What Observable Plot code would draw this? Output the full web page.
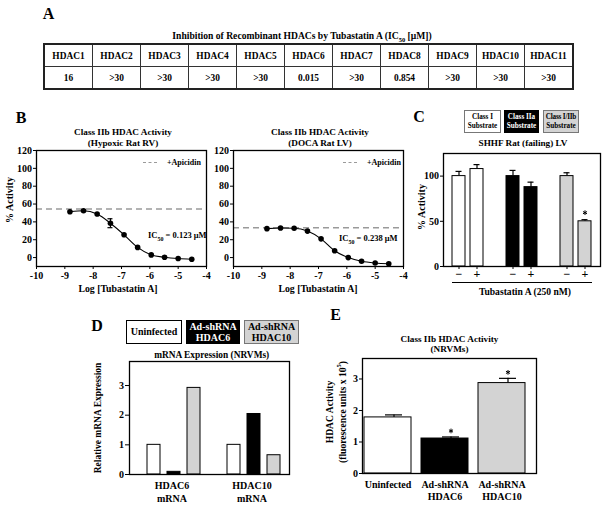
<!DOCTYPE html>
<html><head><meta charset="utf-8">
<script src="https://cdn.jsdelivr.net/npm/d3@7"></script>
<script src="https://cdn.jsdelivr.net/npm/@observablehq/plot@0.6"></script>
<style>
body{margin:0;background:#fff;}
#root{position:relative;width:605px;height:505px;overflow:hidden;background:#fff;color:#000;
  font-family:"Liberation Serif","Times New Roman",serif;font-weight:bold;}
#root svg, #root svg text{font-family:"Liberation Serif","Times New Roman",serif !important;font-weight:bold;}
.lbl{position:absolute;white-space:nowrap;line-height:1.15;text-align:center;}
.box{position:absolute;display:flex;align-items:center;justify-content:center;text-align:center;box-sizing:border-box;line-height:1.12;white-space:nowrap;overflow:visible;}
table.ic{position:absolute;border-collapse:collapse;font-size:9.4px;}
table.ic td{border:1px solid #333;text-align:center;padding:0;height:21px;width:47px;}
table.ic{border:2px solid #222;}
svg{overflow:visible;}
</style></head><body><div id="root"></div>
<script>
// ---------- DATA ----------
const hdacNames = ["HDAC1","HDAC2","HDAC3","HDAC4","HDAC5","HDAC6","HDAC7","HDAC8","HDAC9","HDAC10","HDAC11"];
const hdacIC50 = ["16",">30",">30",">30",">30","0.015",">30","0.854",">30",">30",">30"];

const logConc = [-8.82,-8.34,-7.86,-7.39,-6.91,-6.43,-5.95,-5.48,-5.0,-4.52];
const xTicks = [-10,-9,-8,-7,-6,-5,-4];
const pctTicks = [0,20,40,60,80,100,120];
const rvActivity = [51.4,52.5,48.8,38.5,25.5,11.4,3.0,0.4,-1.1,-1.9];
const rvError = [0,0,0,5,0,0,0,0,0,0];
const rvApicidin = 54.5;
const lvActivity = [32.4,33.1,32.8,29.7,21.0,7.6,0.0,-4.2,-6.1,-6.9];
const lvError = [0,0,0,0,0,0,0,0,0,0];
const lvApicidin = 33.5;

const substrates = ["Class I","Class IIa","Class I/IIb"];
const treatments = ["\u2212","+"];
const cActivity = [[100,107.8],[100,87.8],[100,50]];
const cError = [[5.2,4.9],[6.3,5.5],[3.7,1.8]];
const cSignificant = [[false,false],[false,false],[false,true]];
const cTicks = [0,50,100];

const genes = ["HDAC6 mRNA","HDAC10 mRNA"];
const conditions = ["Uninfected","Ad-shRNA HDAC6","Ad-shRNA HDAC10"];
const mrna = [[1.0,0.09,2.92],[1.0,2.04,0.65]];
const dTicks = [0,1,2,3];

const eActivity = [1.78,1.11,2.87];
const eError = [0.08,0.05,0.15];
const eSignificant = [false,true,true];
const eTicks = [0,1,2,3];

const fills = ["#ffffff","#000000","#d3d3d3"];

// ---------- HELPERS ----------
const root = document.getElementById("root");
const baseStyle = {fontFamily:'"Liberation Serif","Times New Roman",serif', fontWeight:"bold", fontSize:"10px",
  background:"transparent", overflow:"visible", color:"#000"};
const intFmt = d=>String(d);
function place(el, left, top){ el.style.position="absolute"; el.style.left=left+"px"; el.style.top=top+"px"; root.appendChild(el); return el; }
function label(html, cx, cy, size, rot){
  const d=document.createElement("div"); d.className="lbl"; d.innerHTML=html;
  d.style.fontSize=size+"px"; d.style.left=cx+"px"; d.style.top=cy+"px";
  d.style.transform="translate(-50%,-50%)"+(rot?" rotate(-90deg)":""); root.appendChild(d); return d;
}
function labelLeft(html, x, cy, size){
  const d=document.createElement("div"); d.className="lbl"; d.innerHTML=html;
  d.style.fontSize=size+"px"; d.style.left=x+"px"; d.style.top=cy+"px"; d.style.transform="translate(0,-50%)";
  d.style.textAlign="left"; root.appendChild(d); return d;
}
function box(html, x, y, w, h, bg, fg, border, size){
  const d=document.createElement("div"); d.className="box"; d.innerHTML="<div>"+html+"</div>";
  Object.assign(d.style,{left:x+"px",top:y+"px",width:w+"px",height:h+"px",background:bg,color:fg,border:border,fontSize:size+"px"});
  root.appendChild(d); return d;
}
function dash(x, y, w){
  const d=document.createElement("div");
  Object.assign(d.style,{position:"absolute",left:x+"px",top:y+"px",width:w+"px",height:"0",borderTop:"1.5px dashed #9a9a9a"});
  root.appendChild(d);
}

// ---------- PANEL A ----------
label("A", 48.5, 13.5, 16);
label("Inhibition of Recombinant HDACs by Tubastatin A (IC<sub style='font-size:6.5px'>50</sub> [\u03bcM])", 302, 37, 9.6);
{
  const t=document.createElement("table"); t.className="ic";
  const r1=t.insertRow(), r2=t.insertRow();
  hdacNames.forEach((n,i)=>{ r1.insertCell().textContent=n; r2.insertCell().textContent=hdacIC50[i]; });
  place(t, 43, 43);
}

// ---------- PANEL B ----------
function doseResponse(values, errors, apicidin){
  const pts = logConc.map((x,i)=>({x, y:values[i], e:errors[i]}));
  const errPts = pts.filter(d=>d.e>0);
  return Plot.plot({
    width:215, height:160, marginLeft:36, marginRight:9, marginTop:10, marginBottom:34,
    style: baseStyle,
    x:{domain:[-10,-4]}, y:{domain:[-10,120]},
    marks:[
      Plot.ruleY([apicidin], {stroke:"#9a9a9a", strokeWidth:1.4, strokeDasharray:"6,4"}),
      Plot.line(pts, {x:"x", y:"y", curve:"monotone-x", strokeWidth:1.1}),
      Plot.ruleX(errPts, {x:"x", y1:d=>d.y-d.e, y2:d=>d.y+d.e, strokeWidth:1.2}),
      Plot.ruleY(errPts, {x1:"x", x2:"x", y:d=>d.y+d.e, insetLeft:-2.5, insetRight:-2.5, strokeWidth:1.2}),
      Plot.ruleY(errPts, {x1:"x", x2:"x", y:d=>d.y-d.e, insetLeft:-2.5, insetRight:-2.5, strokeWidth:1.2}),
      Plot.dot(pts, {x:"x", y:"y", r:2.8, fill:"#000", stroke:"none"}),
      Plot.frame({strokeWidth:1.3}),
      Plot.axisX({ticks:xTicks, tickFormat:intFmt, tickSize:3, tickPadding:2, label:null}),
      Plot.axisY({ticks:pctTicks, tickFormat:intFmt, tickSize:3, tickPadding:1.5, label:null})
    ]
  });
}
place(doseResponse(rvActivity, rvError, rvApicidin), 0, 140);
place(doseResponse(lvActivity, lvError, lvApicidin), 197, 140);
label("B", 21, 117.5, 16);
label("Class IIb HDAC Activity<br>(Hypoxic Rat RV)", 123, 138, 9.2);
label("Class IIb HDAC Activity<br>(DOCA Rat LV)", 320, 138, 9.2);
label("% Activity", 10, 200, 10, true);
label("Log [Tubastatin A]", 118, 289, 9.8);
label("Log [Tubastatin A]", 318, 289, 9.8);
dash(143, 162, 14); labelLeft("+Apicidin", 167, 163, 8);
dash(343, 162, 14); labelLeft("+Apicidin", 367, 163, 8);
labelLeft("IC<sub style='font-size:6px'>50</sub> = 0.123 \u03bcM", 148, 237, 8.5);
labelLeft("IC<sub style='font-size:6px'>50</sub> = 0.238 \u03bcM", 339, 240, 8.5);

// ---------- PANEL C ----------
{
  const slots=[]; substrates.forEach((s,gi)=>{ if(gi>0) slots.push("gap"+gi); treatments.forEach(t=>slots.push(s+"|"+t)); });
  const data=[]; substrates.forEach((s,gi)=>treatments.forEach((t,ti)=>data.push({slot:s+"|"+t, substrate:s, treat:t,
    value:cActivity[gi][ti], err:cError[gi][ti], sig:cSignificant[gi][ti]})));
  const p = Plot.plot({
    width:205, height:150, marginLeft:43, marginRight:5, marginTop:10, marginBottom:27,
    style: baseStyle,
    x:{type:"band", domain:slots, range:[49,195], paddingInner:0.257, paddingOuter:0},
    y:{domain:[0,125]},
    color:{domain:substrates, range:fills},
    marks:[
      Plot.ruleX(data, {x:"slot", y1:"value", y2:d=>d.value+d.err, strokeWidth:1.2}),
      Plot.tickY(data, {x:"slot", y:d=>d.value+d.err, insetLeft:3.5, insetRight:3.5, strokeWidth:1.2}),
      Plot.barY(data, {x:"slot", y:"value", fill:"substrate", stroke:"#000", strokeWidth:1}),
      Plot.dot(data.filter(d=>d.sig), {x:"slot", y:d=>d.value+d.err, symbol:"asterisk", r:2.2, stroke:"#000", strokeWidth:1, dy:-7}),
      Plot.frame({strokeWidth:1.3}),
      Plot.axisY({ticks:cTicks, tickFormat:intFmt, tickSize:3, tickPadding:1.5, label:null}),
      Plot.axisX({ticks:data.map(d=>d.slot), tickFormat:s=>s.split("|")[1], tickSize:3, tickPadding:0, fontSize:12, label:null})
    ]
  });
  place(p, 400, 143);
}
label("C", 419, 116.5, 16);
box("Class I<br>Substrate", 464, 110, 37, 23, "#fff", "#000", "1.5px solid #777", 7.2);
box("Class IIa<br>Substrate", 504, 110, 35, 23, "#000", "#fff", "1.5px solid #000", 7.2);
box("<span style='letter-spacing:-0.2px'>Class I/IIb</span><br>Substrate", 543, 110, 36, 23, "#d3d3d3", "#000", "1.5px solid #777", 7.2);
label("SHHF Rat (failing) LV", 523, 143, 9.2);
label("% Activity", 422, 207, 10, true);
{ const d=document.createElement("div"); Object.assign(d.style,{position:"absolute",left:"452px",top:"282px",width:"140px",height:"0",borderTop:"1px solid #000"}); root.appendChild(d); }
label("Tubastatin A (250 nM)", 525, 292, 9.6);

// ---------- PANEL D ----------
{
  const slots=[]; genes.forEach((g,gi)=>{ if(gi>0) slots.push("gap"+gi); conditions.forEach(c=>slots.push(g+"|"+c)); });
  const data=[]; genes.forEach((g,gi)=>conditions.forEach((c,ci)=>data.push({slot:g+"|"+c, gene:g, condition:c, value:mrna[gi][ci]})));
  const p = Plot.plot({
    width:200, height:150, marginLeft:29, marginRight:11, marginTop:10, marginBottom:27,
    style: baseStyle,
    x:{type:"band", domain:slots, range:[44.3,181.7], paddingInner:0.352, paddingOuter:0, axis:null},
    y:{domain:[0,3.81]},
    color:{domain:conditions, range:fills},
    marks:[
      Plot.barY(data, {x:"slot", y:"value", fill:"condition", stroke:"#000", strokeWidth:1}),
      Plot.frame({strokeWidth:1.3}),
      Plot.axisY({ticks:dTicks, tickFormat:intFmt, tickSize:4, tickPadding:1.5, label:null}),
      Plot.text(genes, {x:g=>g+"|"+conditions[1], text:g=>g.replace(" ","\n"), frameAnchor:"bottom", lineAnchor:"top", dy:6, dx:-2, lineHeight:1.25, fontSize:10, fill:"#000"})
    ]
  });
  place(p, 100, 351);
}
label("D", 97, 326, 16);
box("Uninfected", 126, 320, 56, 24, "#fff", "#000", "1px solid #000", 10);
box("Ad-shRNA<br>HDAC6", 186, 320, 54, 24, "#000", "#fff", "1px solid #000", 10);
box("Ad-shRNA<br>HDAC10", 244, 320, 55, 24, "#d3d3d3", "#000", "1.5px solid #777", 10);
label("mRNA Expression (NRVMs)", 211.7, 355, 9.4);
label("Relative mRNA Expression", 98, 418, 9.5, true);

// ---------- PANEL E ----------
{
  const data = conditions.map((c,i)=>({condition:c, value:eActivity[i], err:eError[i], sig:eSignificant[i]}));
  const p = Plot.plot({
    width:215, height:155, marginLeft:32, marginRight:9, marginTop:10, marginBottom:30,
    style: baseStyle,
    x:{type:"band", domain:conditions, range:[33,195], paddingInner:0.18, paddingOuter:0, axis:null},
    y:{domain:[0,3.65]},
    color:{domain:conditions, range:fills},
    marks:[
      Plot.ruleX(data, {x:"condition", y1:"value", y2:d=>d.value+d.err, dx:6, strokeWidth:1.2}),
      Plot.tickY(data, {x:"condition", y:d=>d.value+d.err, dx:6, insetLeft:15, insetRight:15, strokeWidth:1.2}),
      Plot.barY(data, {x:"condition", y:"value", fill:"condition", stroke:"#000", strokeWidth:1}),
      Plot.dot(data.filter(d=>d.sig), {x:"condition", y:d=>d.value+d.err, symbol:"asterisk", r:2.2, stroke:"#000", strokeWidth:1, dy:-6, dx:6}),
      Plot.frame({strokeWidth:1.3}),
      Plot.axisY({ticks:eTicks, tickFormat:intFmt, tickSize:3, tickPadding:1.5, label:null}),
      Plot.text(data, {x:"condition", text:d=>d.condition.replace(" ","\n"), frameAnchor:"bottom", lineAnchor:"top", dy:6, lineHeight:1.2, fontSize:10, fill:"#000"})
    ]
  });
  place(p, 330, 348);
}
label("E", 335.5, 315, 16);
label("Class IIb HDAC Activity<br>(NRVMs)", 449.5, 344.5, 9.2);
label("HDAC Activity<br>(fluorescence units x 10<sup style='font-size:6.5px'>5</sup>)", 336, 412, 9.6, true);
</script></body></html>
